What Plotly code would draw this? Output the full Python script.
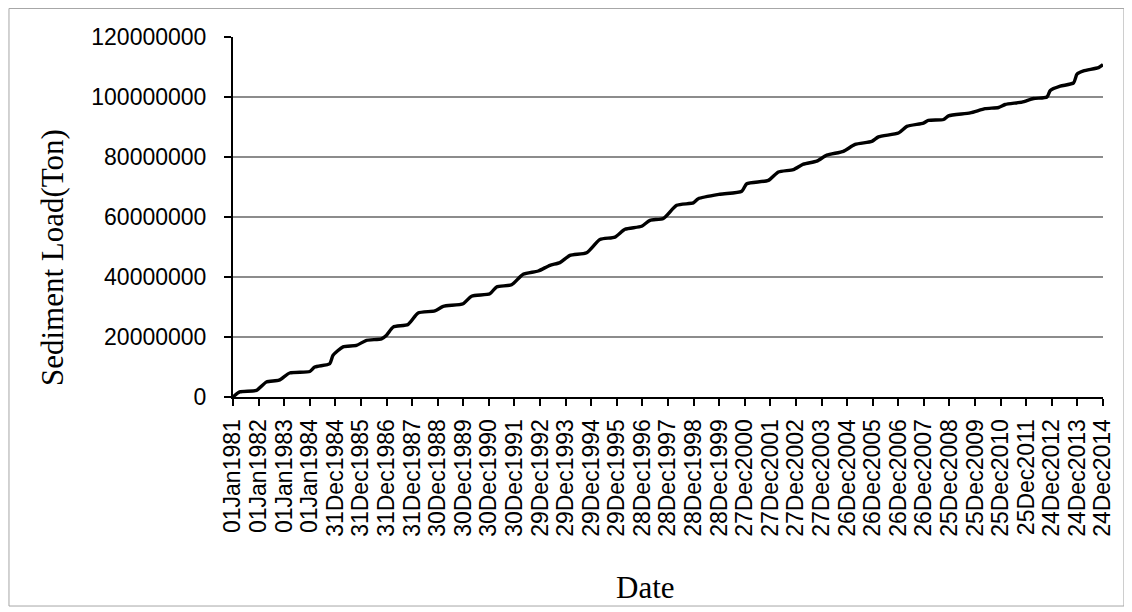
import pandas as pd
import plotly.graph_objects as go

# ---- data ----
start_date = "1981-01-01"
days_since_start = [0, 96, 334, 477, 657, 809, 1095, 1166, 1380, 1427, 1570, 1761, 1904, 2118, 2190,
                    2284, 2498, 2641, 2879, 2998, 3283, 3403, 3664, 3760, 3974, 4139, 4354, 4521, 4663,
                    4806, 5044, 5234, 5448, 5591, 5829, 5948, 6138, 6329, 6566, 6637, 6947, 7257, 7328,
                    7637, 7779, 7993, 8136, 8327, 8470, 8707, 8874, 9113, 9207, 9492, 9612, 9849, 9920,
                    10135, 10206, 10516, 10730, 10920, 11015, 11254, 11419, 11610, 11658, 11800, 11990,
                    12039, 12133, 12347, 12410]
load_million_ton = [0, 1.7, 2.2, 5.0, 5.6, 8.0, 8.5, 10.0, 11.1, 13.9, 16.7, 17.2, 18.9, 19.4, 20.6,
                    23.3, 24.2, 28.0, 28.7, 30.2, 31.1, 33.6, 34.4, 36.7, 37.4, 40.9, 42.0, 43.9, 44.8,
                    47.2, 48.1, 52.5, 53.3, 55.9, 56.9, 58.9, 59.5, 63.9, 64.7, 66.1, 67.6, 68.6, 71.1,
                    72.2, 75.0, 75.8, 77.6, 78.6, 80.6, 81.9, 84.2, 85.2, 86.7, 88.0, 90.2, 91.3, 92.2,
                    92.5, 93.7, 94.7, 96.1, 96.5, 97.5, 98.3, 99.5, 100.0, 102.2, 103.6, 104.7, 107.6,
                    108.7, 109.8, 110.8]
tick_labels = ["01Jan1981", "01Jan1982", "01Jan1983", "01Jan1984", "31Dec1984", "31Dec1985",
               "31Dec1986", "31Dec1987", "30Dec1988", "30Dec1989", "30Dec1990", "30Dec1991",
               "29Dec1992", "29Dec1993", "29Dec1994", "29Dec1995", "28Dec1996", "28Dec1997",
               "28Dec1998", "28Dec1999", "27Dec2000", "27Dec2001", "27Dec2002", "27Dec2003",
               "26Dec2004", "26Dec2005", "26Dec2006", "26Dec2007", "25Dec2008", "25Dec2009",
               "25Dec2010", "25Dec2011", "24Dec2012", "24Dec2013", "24Dec2014"]
y_ticks = [0, 20000000, 40000000, 60000000, 80000000, 100000000, 120000000]
x_title = "Date"
y_title = "Sediment Load(Ton)"

dates = pd.Timestamp(start_date) + pd.to_timedelta(days_since_start, unit="D")
loads = [v * 1e6 for v in load_million_ton]
tick_dates = pd.to_datetime(tick_labels, format="%d%b%Y")

fig = go.Figure()
fig.add_trace(go.Scatter(x=dates, y=loads, mode="lines",
                         line=dict(color="black", width=3.4, shape="spline", smoothing=0.6),
                         showlegend=False, hoverinfo="skip"))

tick_font = dict(family="Liberation Sans, Arial, sans-serif", size=23, color="black")
title_font = dict(family="Liberation Serif, Times New Roman, serif", size=31, color="black")

fig.update_layout(
    width=1124, height=604,
    margin=dict(l=225, r=29, t=29, b=215),
    paper_bgcolor="white", plot_bgcolor="white",
    xaxis=dict(
        type="date",
        range=[tick_dates[0], tick_dates[-1]],
        tickmode="array", tickvals=tick_dates, ticktext=tick_labels,
        tickangle=-90, tickfont=tick_font,
        ticks="outside", ticklen=7, tickwidth=2, tickcolor="black",
        ticklabelstandoff=4,
        showline=True, linecolor="black", linewidth=2,
        showgrid=False, zeroline=False,
    ),
    yaxis=dict(
        range=[0, 120000000],
        tickmode="array", tickvals=y_ticks, ticktext=[str(v) for v in y_ticks],
        tickfont=tick_font,
        ticks="outside", ticklen=7, tickwidth=2, tickcolor="black",
        ticklabelstandoff=13,
        showline=True, linecolor="black", linewidth=2,
        showgrid=True, gridcolor="#8c8c8c", gridwidth=1.5,
        zeroline=False,
    ),
    annotations=[
        dict(text=y_title, xref="paper", yref="paper", x=-0.208, y=0.386,
             textangle=-90, showarrow=False, font=title_font,
             xanchor="center", yanchor="middle"),
        dict(text=x_title, xref="paper", yref="paper", x=0.4747, y=-0.528,
             showarrow=False, font=title_font, xanchor="center", yanchor="middle"),
    ],
    shapes=[dict(type="rect", xref="paper", yref="paper",
                 x0=-0.2575, x1=1.0241, y0=-0.5806, y1=1.0792,
                 line=dict(color="#a6a6a6", width=1), fillcolor="rgba(0,0,0,0)", layer="below")],
)

fig.write_html("out.html")
